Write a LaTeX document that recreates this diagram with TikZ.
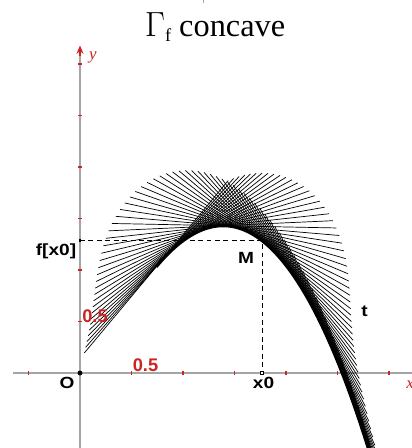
\documentclass[tikz,border=0pt]{standalone}
\usepackage{fontspec}
\setmainfont{Liberation Serif}
\newfontfamily\labfont[FakeStretch=1.18]{Liberation Sans}
\newfontfamily\numfont{Liberation Sans}
\usetikzlibrary{arrows.meta}
\definecolor{axgray}{RGB}{165,165,165}
\definecolor{axred}{RGB}{205,35,35}
\begin{document}
\begin{tikzpicture}[x=2.575cm,y=2.575cm,
  axis/.style={draw=axgray,line width=0.8pt},
  tickmark/.style={draw=axred,line width=0.8pt},
  tang/.style={line width=0.5pt},
  curve/.style={line width=2.2pt},
  guide/.style={dash pattern=on 3.5pt off 2.5pt,line width=0.9pt},
  lab/.style={font=\labfont\bfseries\fontsize{11.5}{11.5}\selectfont,inner sep=0pt},
  redlab/.style={font=\numfont\bfseries\fontsize{13}{13}\selectfont,text=axred,inner sep=0pt},
  axlab/.style={font=\itshape\fontsize{12}{12}\selectfont,text=axred,inner sep=0pt},
]
\useasboundingbox (-0.7767,-0.7282) rectangle (3.2233,3.6214);
\clip (-0.7767,-0.7282) rectangle (3.2233,3.6214);
% small mark at top
\draw[axgray,line width=0.6pt] (1.194,3.63) -- (1.194,3.59);
% title
\node[anchor=base,font=\fontsize{23}{23}\selectfont,inner sep=0pt] (title) at (1.311,3.265) {$\Gamma$\raisebox{-0.3ex}{\fontsize{13}{13}\selectfont f} concave};
% axes
\draw[axis] (-0.65,0) -- (3.3,0);
\draw[axis] (0,-0.8) -- (0,3.12);
\draw[axred,line width=0.8pt,-{Stealth[length=6pt,width=5pt]}] (0,3.08) -- (0,3.18);
\foreach \t in {-0.5,0.5,1,1.5,2,2.5,3} \draw[tickmark] (\t,-0.02) -- (\t,0.02);
\foreach \t in {0.5,1,1.5,2,2.5,3} \draw[tickmark] (-0.02,\t) -- (0.02,\t);
% tangent fan
\foreach \i in {0,...,70} {
  \pgfmathsetmacro\xp{0.74+0.033*\i}
  \pgfmathsetmacro\dd{\xp-1.39}
  \pgfmathsetmacro\fp{1.43-0.99*\dd*\dd-0.07*\dd*\dd*\dd}
  \pgfmathsetmacro\sl{-1.98*\dd-0.21*\dd*\dd}
  \pgfmathsetmacro\cc{1.09/sqrt(1+\sl*\sl)}
  \draw[tang] (\xp-\cc,\fp-\sl*\cc) -- (\xp+\cc,\fp+\sl*\cc);
}
% curve
\draw[curve] plot[domain=0.74:3.05,samples=120] (\x,{1.43-0.99*(\x-1.39)*(\x-1.39)-0.07*(\x-1.39)*(\x-1.39)*(\x-1.39)});
% point M and guides
\pgfmathsetmacro\fM{1.43-0.99*0.38*0.38-0.07*0.38*0.38*0.38}
\coordinate (M) at (1.77,\fM);
\coordinate (fy) at (0,\fM);
\coordinate (xo) at (1.77,0);
\coordinate (O) at (0,0);
\draw[guide] (fy) -- (M) -- (xo);
\fill (O) circle (0.024);
\fill (fy) ++(-0.014,-0.014) rectangle ++(0.028,0.028);
\draw[line width=0.5pt,fill=white] (xo) ++(-0.015,-0.015) rectangle ++(0.03,0.03);
% labels
\node[axlab] (ylab) at (0.126,3.068) {y};
\node[axlab] (xlab) at (3.204,-0.117) {x};
\node[redlab] (hx) at (0.636,0.078) {0.5};
\node[redlab] (hy) at (0.146,0.549) {0.5};
\node[lab] (flab) at (-0.233,1.180) {f[x0]};
\node[lab] (olab) at (-0.126,-0.092) {O};
\node[lab] (mlab) at (1.612,1.121) {M};
\node[lab] (tlab) at (2.762,0.602) {t};
\node[lab] (xolab) at (1.782,-0.097) {x0};
\end{tikzpicture}
\end{document}
